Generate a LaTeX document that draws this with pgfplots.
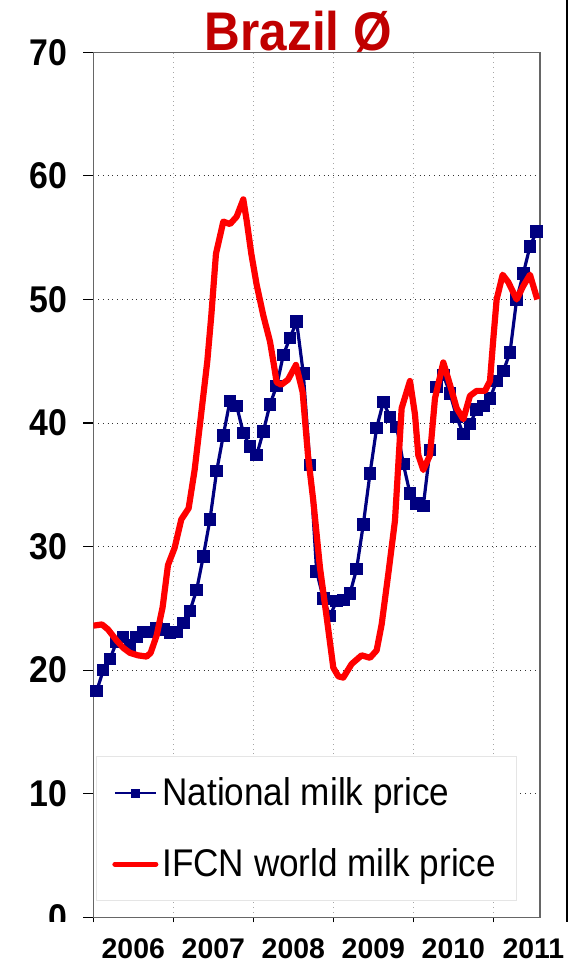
\documentclass[border=0pt]{standalone}
\usepackage{fontspec}
\setmainfont{Liberation Sans}
\newfontfamily\tallfont[FakeStretch=0.91]{Liberation Sans}
\usepackage{pgfplots}
\usepackage{pgfplotstable}
\pgfplotsset{compat=1.18}

\definecolor{natblue}{RGB}{0,0,128}
\definecolor{ifcnred}{RGB}{255,0,0}
\definecolor{titlered}{RGB}{192,0,0}

% national milk price, one point per month (x = months since Jan 2006, mid-month)
\pgfplotstableread{
m p
0.5 18.3
1.5 20.0
2.5 20.9
3.5 22.3
4.5 22.7
5.5 22.0
6.5 22.7
7.5 23.1
8.5 23.1
9.5 23.4
10.5 23.3
11.5 23.0
12.5 23.1
13.5 23.8
14.5 24.8
15.5 26.5
16.5 29.2
17.5 32.2
18.5 36.1
19.5 39.0
20.5 41.8
21.5 41.4
22.5 39.2
23.5 38.1
24.5 37.4
25.5 39.3
26.5 41.5
27.5 43.0
28.5 45.5
29.5 46.9
30.5 48.2
31.5 44.0
32.5 36.6
33.5 28.0
34.5 25.8
35.5 24.4
36.5 25.6
37.5 25.7
38.5 26.2
39.5 28.2
40.5 31.8
41.5 35.9
42.5 39.6
43.5 41.7
44.5 40.5
45.5 39.7
46.5 36.7
47.5 34.3
48.5 33.5
49.5 33.3
50.5 37.8
51.5 42.9
52.5 43.9
53.5 42.4
54.5 40.5
55.5 39.1
56.5 39.9
57.5 41.1
58.5 41.4
59.5 42.0
60.5 43.4
61.5 44.2
62.5 45.7
63.5 50.0
64.5 52.1
65.5 54.3
66.5 55.5
}\national

% IFCN world milk price
\pgfplotstableread{
m p
0 23.6
1.3 23.7
2.2 23.3
3.5 22.4
4.5 21.8
5.5 21.4
6.7 21.2
8 21.1
8.6 21.4
9.5 22.8
10.4 25.1
11.2 28.5
12.2 29.9
13.2 32.2
14.3 33.1
15.2 36.2
16 39.9
17.1 45.0
17.7 48.7
18.4 53.7
19.5 56.3
20.5 56.1
21.5 56.7
22.5 58.1
23 56.4
23.7 53.7
24.5 51.2
25.5 48.7
26.5 46.6
27 45.0
27.5 43.3
28.2 43.1
29.2 43.5
30.4 44.7
31.4 42.5
32.2 37.4
33 33.7
34 28.3
35 24.3
36 20.2
36.75 19.5
37.5 19.4
38.75 20.5
40.25 21.2
41.5 21.0
42.5 21.6
43.25 23.7
44.25 27.8
45.25 32.1
46.25 41.2
47.5 43.4
48.25 40.7
48.75 37.4
49.5 36.2
50.5 37.4
51.25 42.0
52.5 44.9
53.5 43.1
54.5 41.2
55.5 40.3
56.5 42.2
57.5 42.6
58.75 42.6
59.5 43.4
60 46.8
60.5 50.0
61.4 52.0
62.25 51.4
63.5 50.0
64.5 51.1
65.5 52.0
66.6 50.0
}\ifcn

\begin{document}
\begin{tikzpicture}
\begin{axis}[
    scale only axis,
    width=223.35pt,
    height=432.5pt,
    xmin=0, xmax=67,
    ymin=0, ymax=70,
    clip mode=individual,
    ytick={0,10,...,70},
    xtick={6,18,30,42,54,66},
    xticklabels={2006,2007,2008,2009,2010,2011},
    minor xtick={0,12,24,36,48,60},
    ymajorgrids, xminorgrids,
    major y grid style={black!80, dotted, line width=0.5pt},
    minor x grid style={gray!70, dotted, line width=0.5pt},
    axis line style={black!60, line width=0.7pt},
    tick pos=left,
    tick align=outside,
    major tick length=5pt,
    minor tick length=2.5pt,
    major x tick style={draw=none},
    minor x tick style={black, line width=0.6pt},
    major y tick style={black, line width=0.6pt},
    /pgf/number format/assume math mode=true,
    yticklabel style={font=\tallfont\bfseries\fontsize{18.6}{18.6}\selectfont, xshift=-4.6pt},
    xticklabel style={font=\bfseries\fontsize{14.2}{14.2}\selectfont, yshift=-2pt},
    legend style={
        at={(0.006,0.186)},
        anchor=north west,
        draw=gray!20,
        fill=white,
        font=\tallfont\fontsize{19.3}{19.3}\selectfont,
        row sep=16pt,
        inner xsep=8pt,
        inner ysep=8.5pt,
    },
    legend cell align=left,
]

\addplot[natblue, line width=1.6pt, mark=square*, mark size=2.3pt,
    legend image code/.code={
        \draw[natblue, line width=1pt] (0pt,0pt) -- (20.5pt,0pt);
        \fill[natblue] (8.75pt,-1.5pt) rectangle (11.75pt,1.5pt);
    }] table[x=m, y=p] {\national};
\addlegendentry{National milk price}

\addplot[ifcnred, line width=3.1pt, line join=round,
    legend image code/.code={
        \draw[ifcnred, line width=2.5pt, line cap=round] (0pt,0pt) -- (20.5pt,0pt);
    }] table[x=m, y=p] {\ifcn};
\addlegendentry{IFCN world milk price}

\node[anchor=base, text=titlered, font=\tallfont\bfseries\fontsize{27.2}{27.2}\selectfont]
    at (rel axis cs:0.459,1) [yshift=1pt] {Brazil Ø};
\end{axis}
% slide border on the right and the cut-off strip under the "0" label
\fill[white] (-46.65pt,-2.6pt) rectangle (-4pt,-29.35pt);
\draw[black, line width=1.2pt] (236.85pt,458.65pt) -- (236.85pt,-2.35pt);
\pgfresetboundingbox
\path[use as bounding box] (-46.65pt,-29.35pt) rectangle (242.85pt,458.65pt);
\end{tikzpicture}
\end{document}
